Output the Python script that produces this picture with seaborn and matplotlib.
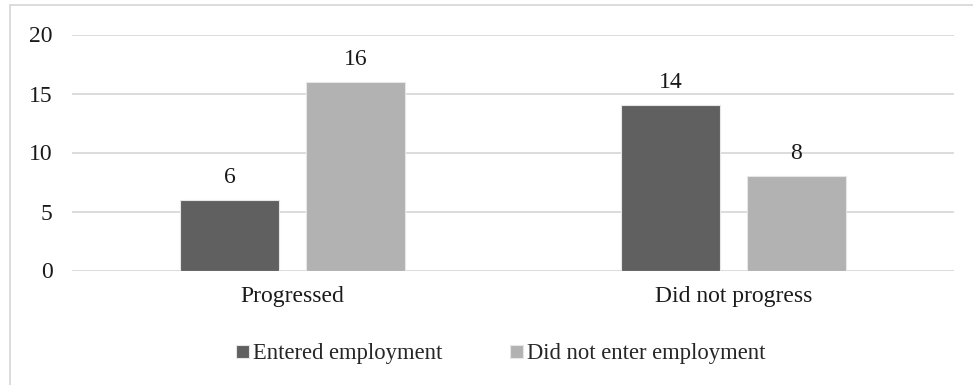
import matplotlib
matplotlib.use("Agg")
import matplotlib.pyplot as plt
from matplotlib.patches import Rectangle
import seaborn as sns
import pandas as pd

categories = ["Progressed", "Did not progress"]
series_names = ["Entered employment", "Did not enter employment"]
entered = [6, 14]
not_entered = [16, 8]
y_ticks = [0, 5, 10, 15, 20]

colors = ["#606060", "#B2B2B2"]

df = pd.DataFrame({
    "category": categories * 2,
    "series": [series_names[0]] * len(categories) + [series_names[1]] * len(categories),
    "value": entered + not_entered,
})

sns.set_theme(style="white")
plt.rcParams["font.family"] = ["Liberation Serif", "DejaVu Serif"]

FS = 17
LEG_FS = 16.3

fig = plt.figure(figsize=(9.73, 3.85), dpi=100)
ax = fig.add_axes([72 / 973, 1 - 270.5 / 385, (954 - 72) / 973, (270.5 - 34.5) / 385])

sns.barplot(data=df, x="category", y="value", hue="series", order=categories,
            hue_order=series_names, palette=colors, width=0.57, gap=0.21,
            edgecolor="#E6E6E6", linewidth=0.8, ax=ax, legend=True, zorder=3)

ax.set_xlim(-0.5, 1.5)
ax.set_ylim(0, 20)
ax.set_yticks(y_ticks)
ax.yaxis.grid(True, color="#D9D9D9", linewidth=1.3, zorder=0)
ax.set_axisbelow(True)
for s in ax.spines.values():
    s.set_visible(False)
ax.tick_params(axis="both", length=0, labelsize=FS, colors="#1a1a1a")
ax.tick_params(axis="y", pad=14)
ax.tick_params(axis="x", pad=11)
ax.set_xlabel("")
ax.set_ylabel("")

for cont in ax.containers:
    ax.bar_label(cont, fmt="%g", padding=8.5, fontsize=FS, color="#1a1a1a")

handles, labels = ax.get_legend_handles_labels()
ax.legend(handles, labels, loc="center", bbox_to_anchor=(501 / 973, 1 - 354 / 385),
          bbox_transform=fig.transFigure, ncol=2, frameon=False, fontsize=LEG_FS,
          handlelength=0.55, handleheight=0.55, handletextpad=0.2, columnspacing=3.0)

# outer chart border
fig.patches.append(Rectangle((9.5 / 973, -0.1), 1.2, 1 - 5.5 / 385 + 0.1,
                             transform=fig.transFigure, fill=False,
                             edgecolor="#D9D9D9", linewidth=1.3))

fig.savefig("out.png", dpi=100)
